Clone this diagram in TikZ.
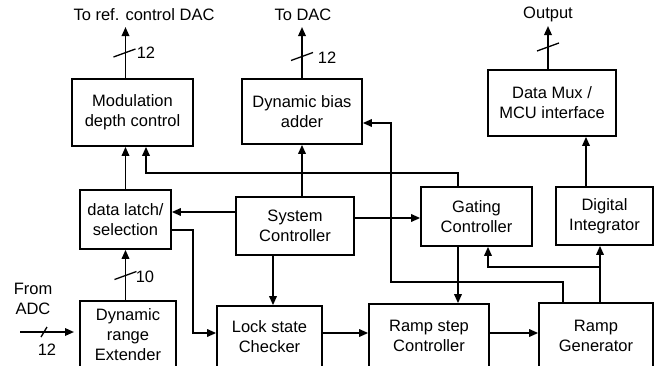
\documentclass[tikz,border=0pt]{standalone}
\usepackage{fontspec}
\setmainfont{Liberation Sans}
\usetikzlibrary{arrows.meta}
\begin{document}
\begin{tikzpicture}[x=1pt,y=-1pt,line width=1.7pt,
  blk/.style={draw,align=center,inner sep=0pt,font=\fontsize{16.5}{20}\selectfont},
  lbl/.style={align=center,inner sep=0pt,font=\fontsize{16.5}{20}\selectfont},
  conn/.style={-{Triangle[length=9pt,width=7.5pt]}},
  tick/.style={line width=1.3pt}]
\useasboundingbox (0,0) rectangle (664,365);

% upper row
\node[blk,minimum width=121pt,minimum height=67pt] (mdc) at (132.5,112.5) {Modulation\\depth control};
\node[blk,minimum width=120pt,minimum height=65pt] (dba) at (302,111.5) {Dynamic bias\\adder};
\node[blk,minimum width=128pt,minimum height=66pt] (dmux) at (552,103) {Data Mux /\\MCU interface};

% middle row
\node[blk,minimum width=91pt,minimum height=59pt] (dls) at (125.5,219.5) {data latch/\\selection};
\node[blk,minimum width=118pt,minimum height=58pt] (sys) at (295,226) {System\\Controller};
\node[blk,minimum width=111pt,minimum height=59pt] (gat) at (476.5,216.5) {Gating\\Controller};
\node[blk,minimum width=97pt,minimum height=58pt] (dint) at (604.5,216) {Digital\\Integrator};

% lower row (runs off the bottom edge)
\node[blk,minimum width=96pt,minimum height=67pt] (dre) at (128,334.5) {Dynamic\\range\\Extender};
\node[blk,minimum width=105pt,minimum height=62pt] (lsc) at (269.5,337) {Lock state\\Checker};
\node[blk,minimum width=120pt,minimum height=64pt] (rsc) at (429,336) {Ramp step\\Controller};
\node[blk,minimum width=114pt,minimum height=65pt] (rg) at (596,335.5) {Ramp\\Generator};

% external labels
\node[lbl] (toref) at (144,15) {To ref. control DAC};
\node[lbl] (todac) at (303,15) {To DAC};
\node[lbl] (outp) at (548,14) {Output};
\node[lbl] (fromadc) at (33,299) {From\\ADC};

\coordinate (refend) at (125.5,27);
\coordinate (dacend) at (302,27);
\coordinate (outend) at (548,26);
\coordinate (adcin) at (20,332);
\coordinate (adcend) at (74,332);
\coordinate (rowb) at (0,333);
\coordinate (j1) at (458,173);
\coordinate (j2) at (600,267);

% outputs
\draw[conn] (dls.north |- mdc.north) -- (refend);
\draw[conn] (dba.north) -- (dacend);
\draw[conn] (outend |- dmux.north) -- (outend);

% bus width marks
\draw[tick] (124.5,53) ++(-11,4) -- ++(22,-8);
\node[lbl] (w1) at (146,53) {12};
\draw[tick] (302,56.5) ++(-11,4) -- ++(22,-8);
\node[lbl] (w2) at (327,58) {12};
\draw[tick] (548,47) ++(-11,4) -- ++(22,-8);
\draw[tick] (125.5,275.5) ++(-11,4) -- ++(22,-8);
\node[lbl] (w3) at (145,277) {10};
\draw[tick] (44,332) ++(-3,5) -- ++(6,-10);
\node[lbl] (w4) at (47,350) {12};

% data path
\draw[conn] (adcin) -- (adcend);
\draw[conn] (dls.south |- dre.north) -- (dls.south);
\draw[conn] (dls.north) -- (dls.north |- mdc.south);
\draw[conn] ([yshift=-10.5pt]dls.east) -| (193,333) -- (lsc.west |- rowb);
\draw[conn] (lsc.east |- rowb) -- (rsc.west |- rowb);
\draw[conn] (rsc.east |- rowb) -- (rg.west |- rowb);

% control paths
\draw[conn] ([yshift=14pt]sys.west) -- ([yshift=14pt]sys.west -| dls.east);
\draw[conn] ([yshift=8pt]sys.east) -- ([yshift=8pt]sys.east -| gat.west);
\draw[conn] ([xshift=-22pt]sys.south) -- ([xshift=-22pt]sys.south |- lsc.north);
\draw[conn] (sys.north -| dba.south) -- (dba.south);
\draw[conn] ([xshift=-18.5pt]gat.north) -- (j1) -| ([xshift=13.5pt]mdc.south);
\draw[conn] ([xshift=-18.5pt]gat.south) -- ([xshift=-18.5pt]gat.south |- rsc.north);
\draw[conn] ([xshift=-33pt]rg.north) |- (391,282) |- ([yshift=-11.5pt]dba.east);
\draw[conn] ([xshift=4pt]rg.north) -- ([xshift=4pt]rg.north |- dint.south);
\draw[conn] (j2) -| ([xshift=11.5pt]gat.south);
\draw[conn] ([xshift=-18.5pt]dint.north) -- ([xshift=-18.5pt]dint.north |- dmux.south);
\end{tikzpicture}
\end{document}
